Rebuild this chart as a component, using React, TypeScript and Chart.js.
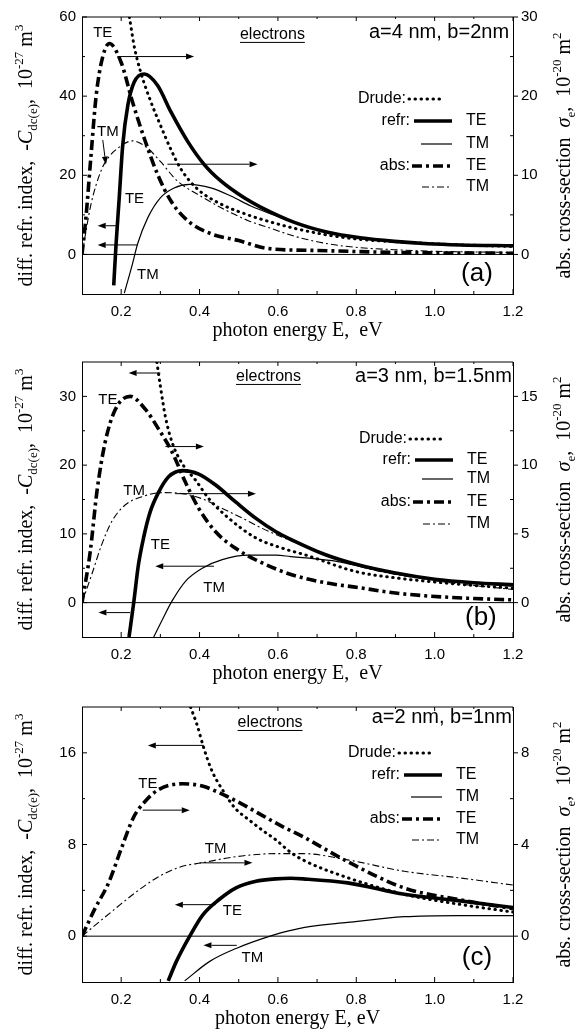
import React, { useEffect, useRef } from "react";
import { Chart, registerables } from "chart.js";

Chart.register(...registerables);

const SANS = '"Liberation Sans", Arial, sans-serif';
const SERIF = '"Liberation Serif", "Times New Roman", serif';

// ---------- shared x axis ----------
const X_MIN = 0.1;
const X_MAX = 1.2;
const X_TICKS = [0.2, 0.4, 0.6, 0.8, 1.0, 1.2];
const X_MINOR = [0.3, 0.5, 0.7, 0.9, 1.1];

// ---------- panel (a): a=4 nm, b=2 nm ----------
const A_LEFT_TICKS = [0, 20, 40, 60];
const A_LEFT_MINOR = [10, 30, 50];
const A_RIGHT_TICKS = [0, 10, 20, 30];
const A_RIGHT_MINOR = [5, 15, 25];

const A_DRUDE_E = [0.221, 0.233, 0.25, 0.276, 0.3, 0.327, 0.353, 0.395, 0.455, 0.523, 0.557, 0.642, 0.727, 0.81, 0.9, 1.0, 1.1, 1.2];
const A_DRUDE = [60, 52.7, 46, 38.5, 32.7, 26.5, 21.5, 16.5, 12.7, 10.0, 8.9, 6.6, 4.9, 3.8, 3.2, 2.7, 2.3, 2.0];
const A_REFR_TE_E = [0.181, 0.187, 0.195, 0.204, 0.217, 0.233, 0.259, 0.293, 0.327, 0.37, 0.412, 0.455, 0.514, 0.557, 0.642, 0.727, 0.81, 0.897, 0.982, 1.067, 1.2];
const A_REFR_TE = [-7.8, 2.7, 14.3, 27.7, 37.7, 43.5, 45.6, 42.7, 36, 28.5, 22.7, 18.5, 14.3, 11.9, 8.1, 5.6, 4.2, 3.3, 2.7, 2.4, 2.2];
const A_REFR_TM_E = [0.208, 0.229, 0.242, 0.268, 0.3, 0.335, 0.374, 0.429, 0.48, 0.531, 0.6, 0.65, 0.7, 0.8, 0.9, 1.0, 1.1, 1.2];
const A_REFR_TM = [-9.8, -2.3, 2.7, 9.3, 14.3, 16.8, 17.7, 16.8, 14.75, 12.25, 9.6, 7.8, 6.3, 4.3, 3.1, 2.6, 2.3, 2.1];
const A_ABS_TE_E = [0.1, 0.11, 0.123, 0.136, 0.153, 0.17, 0.2, 0.229, 0.259, 0.293, 0.327, 0.37, 0.43, 0.5, 0.574, 0.7, 0.9, 1.2];
const A_ABS_TE = [0, 4.65, 12.5, 20, 25, 26.65, 24.25, 19.25, 14.65, 10.1, 6.75, 4.25, 2.6, 1.75, 0.75, 0.5, 0.25, 0.15];
const A_ABS_TM_E = [0.1, 0.123, 0.148, 0.166, 0.191, 0.229, 0.268, 0.3, 0.344, 0.395, 0.455, 0.523, 0.582, 0.642, 0.727, 0.81, 0.896, 1.0, 1.2];
const A_ABS_TM = [0, 6.35, 10.5, 12.15, 13.4, 14.35, 13.4, 11.75, 9.25, 7.6, 5.9, 4.3, 3.3, 2.3, 1.35, 0.85, 0.6, 0.4, 0.25];

// ---------- panel (b): a=3 nm, b=1.5 nm ----------
const B_LEFT_TICKS = [0, 10, 20, 30];
const B_LEFT_MINOR = [5, 15, 25];
const B_RIGHT_TICKS = [0, 5, 10, 15];
const B_RIGHT_MINOR = [2.5, 7.5, 12.5];

const B_DRUDE_E = [0.291, 0.3, 0.313, 0.33, 0.356, 0.39, 0.424, 0.475, 0.544, 0.612, 0.672, 0.8, 0.9, 1.0, 1.1, 1.2];
const B_DRUDE = [35, 31.5, 27, 23.3, 20.2, 17.8, 15.1, 12.25, 9.4, 7.9, 6.9, 4.5, 3.6, 3.0, 2.5, 2.1];
const B_REFR_TE_E = [0.22, 0.232, 0.244, 0.257, 0.274, 0.296, 0.321, 0.356, 0.398, 0.441, 0.492, 0.544, 0.595, 0.633, 0.72, 0.804, 0.9, 1.0, 1.1, 1.2];
const B_REFR_TE = [-5, 0, 5.5, 9.4, 13.2, 16.1, 18.3, 19.2, 18.7, 17.1, 14.65, 12.25, 10.3, 9.2, 7.0, 5.5, 4.3, 3.4, 2.9, 2.6];
const B_REFR_TM_E = [0.283, 0.304, 0.33, 0.364, 0.407, 0.458, 0.526, 0.595, 0.633, 0.672, 0.75, 0.8, 0.9, 1.0, 1.1, 1.2];
const B_REFR_TM = [-5, -2.6, 0.25, 3.1, 5.0, 6.25, 6.9, 6.9, 6.7, 6.5, 6.0, 5.4, 4.2, 3.3, 2.8, 2.4];
const B_ABS_TE_E = [0.1, 0.121, 0.138, 0.159, 0.185, 0.223, 0.262, 0.296, 0.33, 0.364, 0.398, 0.441, 0.492, 0.544, 0.633, 0.72, 0.804, 0.9, 0.975, 1.1, 1.2];
const B_ABS_TE = [0, 3.7, 8.05, 11.65, 14.05, 15.0, 14.05, 12.6, 10.95, 8.75, 6.85, 5.15, 3.95, 3.1, 2.05, 1.45, 1.1, 0.7, 0.5, 0.3, 0.2];
const B_ABS_TM_E = [0.1, 0.125, 0.15, 0.176, 0.21, 0.253, 0.304, 0.356, 0.407, 0.458, 0.51, 0.56, 0.629, 0.672, 0.8, 1.0, 1.2];
const B_ABS_TM = [0, 2.05, 4.2, 5.9, 7.1, 7.7, 8.0, 7.93, 7.55, 6.85, 6.13, 5.4, 4.55, 4.1, 2.7, 1.6, 0.95];

// ---------- panel (c): a=2 nm, b=1 nm ----------
const C_LEFT_TICKS = [0, 8, 16];
const C_LEFT_MINOR = [4, 12];
const C_RIGHT_TICKS = [0, 4, 8];
const C_RIGHT_MINOR = [2, 6];

const C_DRUDE_E = [0.377, 0.394, 0.411, 0.432, 0.458, 0.49, 0.528, 0.562, 0.595, 0.633, 0.667, 0.778, 0.923, 1.06, 1.2];
const C_DRUDE = [20, 18.4, 16.4, 14.4, 12.8, 11.2, 10.1, 9.2, 8.4, 7.3, 6.6, 5.1, 3.65, 2.8, 2.1];
const C_REFR_TE_E = [0.32, 0.341, 0.375, 0.407, 0.45, 0.492, 0.544, 0.595, 0.633, 0.665, 0.778, 0.923, 1.06, 1.2];
const C_REFR_TE = [-3.9, -2.2, 0, 1.8, 3.2, 4.2, 4.8, 5.0, 5.05, 5.0, 4.65, 3.65, 3.1, 2.5];
const C_REFR_TM_E = [0.362, 0.426, 0.495, 0.58, 0.633, 0.665, 0.778, 0.923, 1.06, 1.2];
const C_REFR_TM = [-3.9, -2.2, -1.05, 0, 0.5, 0.75, 1.2, 1.7, 1.8, 1.8];
const C_ABS_TE_E = [0.1, 0.133, 0.168, 0.202, 0.232, 0.262, 0.296, 0.356, 0.407, 0.458, 0.51, 0.562, 0.613, 0.665, 0.778, 0.923, 1.06, 1.2];
const C_ABS_TE = [0, 1.2, 2.33, 3.9, 5.2, 5.9, 6.4, 6.65, 6.55, 6.2, 5.75, 5.25, 4.77, 4.33, 3.25, 2.1, 1.6, 1.2];
const C_ABS_TM_E = [0.1, 0.133, 0.185, 0.236, 0.296, 0.356, 0.407, 0.467, 0.535, 0.595, 0.665, 0.778, 0.923, 1.06, 1.2];
const C_ABS_TM = [0, 0.47, 1.2, 1.9, 2.6, 3.05, 3.2, 3.4, 3.55, 3.6, 3.6, 3.33, 2.83, 2.55, 2.23];

// ---------- line styles ----------
type St = { w: number; dash: number[]; cap: CanvasLineCap };
const STYLE: Record<string, St> = {
  drude: { w: 3, dash: [0.5, 5.5], cap: "round" },
  refrTE: { w: 3.6, dash: [], cap: "butt" },
  refrTM: { w: 1.2, dash: [], cap: "butt" },
  absTE: { w: 3.6, dash: [10, 4, 3, 4], cap: "butt" },
  absTM: { w: 1.1, dash: [7, 3, 2, 3], cap: "butt" },
};

type Part = { t: string; s: number; i?: boolean; dy?: number };
const LEFT_TITLE: Part[] = [
  { t: "diff. refr. index,  -", s: 20 },
  { t: "C", s: 20, i: true },
  { t: "dc(e)", s: 13, dy: 5 },
  { t: ",  10", s: 20 },
  { t: "-27", s: 13, dy: -9 },
  { t: " m", s: 20 },
  { t: "3", s: 13, dy: -9 },
];
const RIGHT_TITLE: Part[] = [
  { t: "abs. cross-section  ", s: 20 },
  { t: "σ", s: 20, i: true },
  { t: "e", s: 13, dy: 5 },
  { t: ",  10", s: 20 },
  { t: "-20", s: 13, dy: -9 },
  { t: " m", s: 20 },
  { t: "2", s: 13, dy: -9 },
];

const PANELS = [
  {
    canvasH: 345, padTop: 14, xAxisH: 51,
    yMin: -10, yMax: 60, y1Min: -5, y1Max: 30,
    leftTicks: A_LEFT_TICKS, leftMinor: A_LEFT_MINOR, rightTicks: A_RIGHT_TICKS, rightMinor: A_RIGHT_MINOR,
    series: {
      drude: [A_DRUDE_E, A_DRUDE], refrTE: [A_REFR_TE_E, A_REFR_TE], refrTM: [A_REFR_TM_E, A_REFR_TM],
      absTE: [A_ABS_TE_E, A_ABS_TE], absTM: [A_ABS_TM_E, A_ABS_TM],
    },
    labels: [["TE", 0.153, 56], ["TM", 0.166, 31], ["TE", 0.234, 14], ["TM", 0.268, -5.25]],
    arrows: [[0.19, 50, 0.386, 50], [0.318, 22.8, 0.548, 22.8], [0.187, 7.25, 0.14, 7.25], [0.243, 2.4, 0.14, 2.4], [0.153, 28.9, 0.161, 22.7]],
    electrons: [0.586, 55.6], param: "a=4 nm, b=2nm", paramPos: [1.19, 56], letter: "(a)", letterPos: [1.108, -5],
    legendX: 452, legendRows: [82, 104, 127, 149, 170],
    xTitle: "photon energy E,  eV",
  },
  {
    canvasH: 345, padTop: 12, xAxisH: 53,
    yMin: -5, yMax: 35, y1Min: -2.5, y1Max: 17.5,
    leftTicks: B_LEFT_TICKS, leftMinor: B_LEFT_MINOR, rightTicks: B_RIGHT_TICKS, rightMinor: B_RIGHT_MINOR,
    series: {
      drude: [B_DRUDE_E, B_DRUDE], refrTE: [B_REFR_TE_E, B_REFR_TE], refrTM: [B_REFR_TM_E, B_REFR_TM],
      absTE: [B_ABS_TE_E, B_ABS_TE], absTM: [B_ABS_TM_E, B_ABS_TM],
    },
    labels: [["TE", 0.166, 29.5], ["TM", 0.233, 16.3], ["TE", 0.3, 8.4], ["TM", 0.437, 2.2]],
    arrows: [[0.3, 33.4, 0.219, 33.4], [0.313, 22.7, 0.411, 22.7], [0.338, 15.85, 0.544, 15.85], [0.437, 5.3, 0.287, 5.3], [0.223, -1.45, 0.142, -1.45]],
    electrons: [0.576, 32.9], param: "a=3 nm, b=1.5nm", paramPos: [1.197, 32.9], letter: "(b)", letterPos: [1.118, -2.2],
    legendX: 453, legendRows: [77, 98, 117, 140, 162],
    xTitle: "photon energy E,  eV",
  },
  {
    canvasH: 346, padTop: 13, xAxisH: 54,
    yMin: -4, yMax: 20, y1Min: -2, y1Max: 10,
    leftTicks: C_LEFT_TICKS, leftMinor: C_LEFT_MINOR, rightTicks: C_RIGHT_TICKS, rightMinor: C_RIGHT_MINOR,
    series: {
      drude: [C_DRUDE_E, C_DRUDE], refrTE: [C_REFR_TE_E, C_REFR_TE], refrTM: [C_REFR_TM_E, C_REFR_TM],
      absTE: [C_ABS_TE_E, C_ABS_TE], absTM: [C_ABS_TM_E, C_ABS_TM],
    },
    labels: [["TE", 0.268, 13.3], ["TM", 0.441, 7.65], ["TE", 0.484, 2.2], ["TM", 0.535, -1.9]],
    arrows: [[0.411, 16.65, 0.268, 16.65], [0.255, 11.0, 0.375, 11.0], [0.4, 6.4, 0.535, 6.4], [0.441, 2.75, 0.337, 2.75], [0.495, -0.8, 0.41, -0.8]],
    electrons: [0.58, 18.65], param: "a=2 nm, b=1nm", paramPos: [1.197, 19.1], letter: "(c)", letterPos: [1.108, -1.9],
    legendX: 442, legendRows: [46, 68, 90, 112, 133],
    xTitle: "photon energy E, eV",
  },
];

// ---------- helpers ----------
function seg(ctx: CanvasRenderingContext2D, x1: number, y1: number, x2: number, y2: number) {
  ctx.beginPath();
  ctx.moveTo(x1, y1);
  ctx.lineTo(x2, y2);
  ctx.stroke();
}

function arrow(ctx: CanvasRenderingContext2D, x1: number, y1: number, x2: number, y2: number) {
  const a = Math.atan2(y2 - y1, x2 - x1);
  const L = 8, W = 3;
  const bx = x2 - L * Math.cos(a), by = y2 - L * Math.sin(a);
  seg(ctx, x1, y1, bx, by);
  ctx.beginPath();
  ctx.moveTo(x2, y2);
  ctx.lineTo(bx + W * Math.sin(a), by - W * Math.cos(a));
  ctx.lineTo(bx - W * Math.sin(a), by + W * Math.cos(a));
  ctx.closePath();
  ctx.fill();
}

function sample(ctx: CanvasRenderingContext2D, x1: number, x2: number, y: number, st: St) {
  ctx.save();
  ctx.lineWidth = st.w;
  ctx.setLineDash(st.dash);
  ctx.lineCap = st.cap;
  seg(ctx, x1, y, x2, y);
  ctx.restore();
}

function rich(ctx: CanvasRenderingContext2D, parts: Part[], cx: number, cy: number, rot: number) {
  ctx.save();
  ctx.translate(cx, cy);
  ctx.rotate(rot);
  ctx.textAlign = "left";
  ctx.textBaseline = "alphabetic";
  const fontOf = (p: Part) => `${p.i ? "italic " : ""}${p.s}px ${SERIF}`;
  let total = 0;
  const ws = parts.map((p) => {
    ctx.font = fontOf(p);
    const w = ctx.measureText(p.t).width;
    total += w;
    return w;
  });
  let x = -total / 2;
  parts.forEach((p, k) => {
    ctx.font = fontOf(p);
    ctx.fillText(p.t, x, 7 + (p.dy || 0));
    x += ws[k];
  });
  ctx.restore();
}

function makeDeco(p: any) {
  return {
    id: "deco",
    afterDatasetsDraw(chart: any) {
      const { ctx, chartArea: ca, scales } = chart;
      const X = (v: number) => scales.x.getPixelForValue(v);
      const Y = (v: number) => scales.y.getPixelForValue(v);
      const Y1 = (v: number) => scales.y1.getPixelForValue(v);
      ctx.save();
      ctx.strokeStyle = "#000";
      ctx.fillStyle = "#000";
      ctx.lineWidth = 1;
      ctx.setLineDash([]);
      // frame top and zero line
      seg(ctx, ca.left, ca.top, ca.right, ca.top);
      seg(ctx, ca.left, Y(0), ca.right, Y(0));
      // ticks
      for (const v of X_TICKS) {
        seg(ctx, X(v), ca.bottom, X(v), ca.bottom - 5);
        seg(ctx, X(v), ca.top, X(v), ca.top + 4);
      }
      for (const v of X_MINOR) {
        seg(ctx, X(v), ca.bottom, X(v), ca.bottom - 3);
        seg(ctx, X(v), ca.top, X(v), ca.top + 2);
      }
      for (const v of p.leftTicks) seg(ctx, ca.left, Y(v), ca.left + 5, Y(v));
      for (const v of p.leftMinor) seg(ctx, ca.left, Y(v), ca.left + 3, Y(v));
      for (const v of p.rightTicks) seg(ctx, ca.right, Y1(v), ca.right + 5, Y1(v));
      for (const v of p.rightMinor) seg(ctx, ca.right - 3, Y1(v), ca.right, Y1(v));
      // arrows
      for (const [a, b, c, d] of p.arrows) arrow(ctx, X(a), Y(b), X(c), Y(d));
      // curve labels
      ctx.font = `15px ${SANS}`;
      ctx.textAlign = "center";
      ctx.textBaseline = "middle";
      for (const [t, x, y] of p.labels) ctx.fillText(t, X(x), Y(y));
      // electrons (underlined)
      ctx.font = `16px ${SANS}`;
      const ex = X(p.electrons[0]), ey = Y(p.electrons[1]);
      ctx.fillText("electrons", ex, ey);
      const ew = ctx.measureText("electrons").width;
      seg(ctx, ex - ew / 2, ey + 8, ex + ew / 2, ey + 8);
      // parameters
      ctx.font = `20px ${SANS}`;
      ctx.textAlign = "right";
      ctx.fillText(p.param, X(p.paramPos[0]), Y(p.paramPos[1]));
      // panel letter
      ctx.font = `26px ${SANS}`;
      ctx.textAlign = "center";
      ctx.fillText(p.letter, X(p.letterPos[0]), Y(p.letterPos[1]));
      // legend
      const lx = p.legendX;
      const r = p.legendRows.map((o: number) => ca.top + o);
      ctx.font = `16px ${SANS}`;
      ctx.textAlign = "right";
      ctx.fillText("Drude:", lx - 46, r[0]);
      ctx.fillText("refr:", lx - 42, r[1]);
      ctx.fillText("abs:", lx - 42, r[3]);
      sample(ctx, lx - 43, lx - 8, r[0], STYLE.drude);
      sample(ctx, lx - 38, lx, r[1], STYLE.refrTE);
      sample(ctx, lx - 31, lx, r[2], STYLE.refrTM);
      sample(ctx, lx - 40, lx, r[3], STYLE.absTE);
      sample(ctx, lx - 30, lx, r[4], STYLE.absTM);
      ctx.textAlign = "left";
      ctx.fillText("TE", lx + 14, r[1]);
      ctx.fillText("TM", lx + 14, r[2]);
      ctx.fillText("TE", lx + 14, r[3]);
      ctx.fillText("TM", lx + 14, r[4]);
      // axis titles
      ctx.font = `20px ${SERIF}`;
      ctx.textAlign = "center";
      ctx.textBaseline = "middle";
      ctx.fillText(p.xTitle, (ca.left + ca.right) / 2, ca.bottom + 37);
      const midY = (ca.top + ca.bottom) / 2;
      rich(ctx, LEFT_TITLE, 25, midY, -Math.PI / 2);
      rich(ctx, RIGHT_TITLE, ca.right + 50, midY, -Math.PI / 2);
      ctx.restore();
    },
  };
}

const pts = (xs: number[], ys: number[]) => xs.map((x, i) => ({ x, y: ys[i] }));

function dataset(xy: number[][], st: St, axis: string) {
  return {
    data: pts(xy[0], xy[1]),
    yAxisID: axis,
    borderColor: "#000",
    borderWidth: st.w,
    borderDash: st.dash,
    borderCapStyle: st.cap,
    borderJoinStyle: "round",
    pointRadius: 0,
    pointHoverRadius: 0,
    fill: false,
    cubicInterpolationMode: "monotone",
  };
}

function tickFont() {
  return { family: SANS, size: 15 };
}

function buildConfig(p: any): any {
  const s = p.series;
  return {
    type: "line",
    data: {
      datasets: [
        dataset(s.refrTM, STYLE.refrTM, "y"),
        dataset(s.absTM, STYLE.absTM, "y1"),
        dataset(s.absTE, STYLE.absTE, "y1"),
        dataset(s.refrTE, STYLE.refrTE, "y"),
        dataset(s.drude, STYLE.drude, "y"),
      ],
    },
    options: {
      responsive: false,
      animation: false,
      events: [],
      layout: { padding: { top: p.padTop, left: 0, right: 0, bottom: 0 } },
      plugins: { legend: { display: false }, tooltip: { enabled: false }, title: { display: false } },
      scales: {
        x: {
          type: "linear",
          min: X_MIN,
          max: X_MAX,
          afterBuildTicks: (sc: any) => { sc.ticks = X_TICKS.map((v) => ({ value: v })); },
          afterFit: (sc: any) => { sc.height = p.xAxisH; },
          grid: { display: false, drawTicks: false },
          border: { display: true, color: "#000", width: 1 },
          ticks: { color: "#000", font: tickFont(), padding: 9, maxRotation: 0, autoSkip: false, callback: (v: any) => Number(v).toFixed(1) },
        },
        y: {
          type: "linear",
          position: "left",
          min: p.yMin,
          max: p.yMax,
          afterBuildTicks: (sc: any) => { sc.ticks = p.leftTicks.map((v: number) => ({ value: v })); },
          afterFit: (sc: any) => { sc.width = 82; },
          grid: { display: false, drawTicks: false },
          border: { display: true, color: "#000", width: 1 },
          ticks: { color: "#000", font: tickFont(), padding: 6, callback: (v: any) => String(v) },
        },
        y1: {
          type: "linear",
          position: "right",
          min: p.y1Min,
          max: p.y1Max,
          afterBuildTicks: (sc: any) => { sc.ticks = p.rightTicks.map((v: number) => ({ value: v })); },
          afterFit: (sc: any) => { sc.width = 66; },
          grid: { display: false, drawTicks: false },
          border: { display: true, color: "#000", width: 1 },
          ticks: { color: "#000", font: tickFont(), padding: 8, callback: (v: any) => String(v) },
        },
      },
    },
    plugins: [makeDeco(p)],
  };
}

function Panel({ p }: { p: any }) {
  const ref = useRef<HTMLCanvasElement>(null);
  useEffect(() => {
    if (!ref.current) return;
    const chart = new Chart(ref.current, buildConfig(p));
    return () => chart.destroy();
  }, [p]);
  return (
    <canvas
      ref={ref}
      width={579}
      height={p.canvasH}
      style={{ display: "block", width: 579, height: p.canvasH }}
    />
  );
}

export default function App() {
  return (
    <div style={{ position: "absolute", left: 0, top: 0, width: 579, height: 1036, background: "#fff" }}>
      {PANELS.map((p, i) => (
        <Panel key={i} p={p} />
      ))}
    </div>
  );
}
